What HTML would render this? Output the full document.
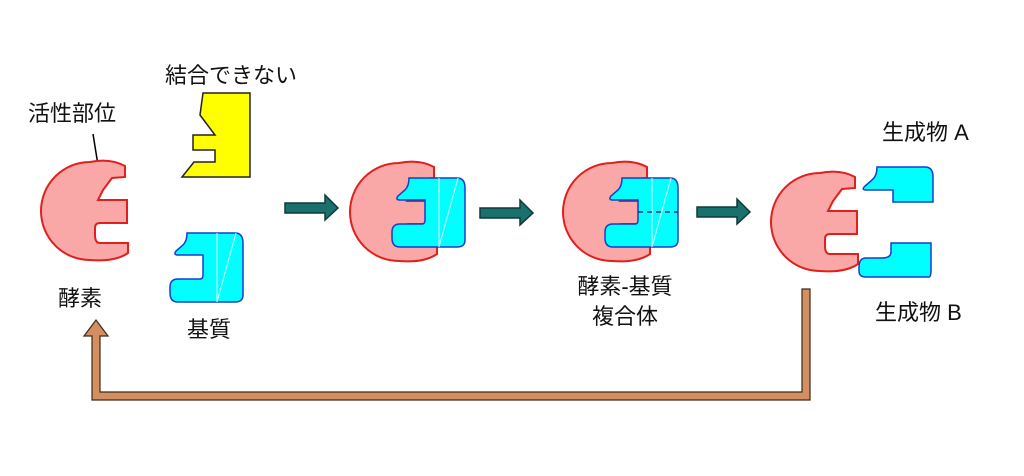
<!DOCTYPE html>
<html><head><meta charset="utf-8"><style>
html,body{margin:0;padding:0;background:#fff;}
svg{display:block;}
text{font-family:"Liberation Sans","Noto Sans CJK JP",sans-serif;font-size:22px;fill:#111;}
</style></head><body>
<svg width="1024" height="476" viewBox="0 0 1024 476" xmlns="http://www.w3.org/2000/svg">
<defs>
<path id="enz" d="M35,-34 L35,-45 Q20,-53 0,-49 A49,49 0 0 0 0,49 Q25,51 38,42 L38,32 L10,32 Q5,32 5,24 L5,17 Q5,12 10,12 L37,12 L37,-11 L8,-11 L13,-21 L22,-33 Z" fill="#f9a7a7" stroke="#e0201c" stroke-width="2"/>
<g id="sub">
<path d="M17,0 L65,0 Q73,0 73,10 L73,62 Q73,69 65,69 L8,69 Q0,69 0,60 L0,54 Q0,46 8,46 L30,46 Q33,46 33,42 L33,22 L8,22 Q3,22 6,18 L13,12 Q17,8 17,0 Z" fill="#00ffff" stroke="#1a3ccf" stroke-width="1.5"/>
<line x1="47" y1="0" x2="47" y2="69" stroke="#e0ffff" stroke-width="1"/>
<line x1="47" y1="69" x2="66" y2="0" stroke="#e0ffff" stroke-width="1"/>
</g>
<path id="arr" d="M0,-5 L40,-5 L40,-13 L53,0 L40,12 L40,5 L0,5 Z" fill="#1a706c" stroke="#0d3b38" stroke-width="1.5"/>
</defs>

<!-- labels -->
<text x="28" y="121">活性部位</text>
<line x1="93" y1="134" x2="102" y2="190" stroke="#000" stroke-width="1.5"/>
<text x="165" y="83">結合できない</text>
<text x="58" y="306">酵素</text>
<text x="187" y="337">基質</text>
<text x="625" y="294" text-anchor="middle">酵素-基質</text>
<text x="625" y="324" text-anchor="middle">複合体</text>
<text x="882" y="140">生成物 A</text>
<text x="875" y="320">生成物 B</text>

<!-- yellow -->
<path d="M203,93 L250,93 L250,177 L182,177 L194,162 L215,162 L215,150 L193,150 L193,135 L215,135 L200,115 Z" fill="#ffff00" stroke="#222" stroke-width="1.5"/>

<!-- enzymes -->
<use href="#enz" transform="translate(90,211)"/>
<use href="#sub" transform="translate(170,233)"/>

<use href="#enz" transform="translate(399,212)"/>
<use href="#sub" transform="translate(392,178)"/>

<use href="#enz" transform="translate(612,212)"/>
<use href="#sub" transform="translate(605,178)"/>
<line x1="638" y1="212" x2="678" y2="212" stroke="#1a3c5f" stroke-width="1.5" stroke-dasharray="5,4"/>

<use href="#enz" transform="translate(820,222)"/>

<!-- products -->
<path d="M877,167 L925,167 Q933,167 933,177 L933,202 L893,202 L893,190 L866,190 Q861,190 865,186 L872,180 Q877,176 877,167 Z" fill="#00ffff" stroke="#1a3ccf" stroke-width="1.5"/>
<path d="M931,243 L891,243 L891,252 Q891,258 882,258 L866,258 Q859,258 859,267 L859,271 Q859,277 866,277 L929,277 Q931,277 931,270 Z" fill="#00ffff" stroke="#1a3ccf" stroke-width="1.5"/>

<!-- arrows -->
<use href="#arr" transform="translate(285,208)"/>
<use href="#arr" transform="translate(480,213)"/>
<use href="#arr" transform="translate(697,212)"/>

<!-- feedback -->
<path d="M802,289 L810,289 L810,400 L92,400 L92,336 L84,336 L96,320 L108,336 L100,336 L100,392 L802,392 Z" fill="#d38f5f" stroke="#3a2a1e" stroke-width="1.2"/>
</svg>
</body></html>
